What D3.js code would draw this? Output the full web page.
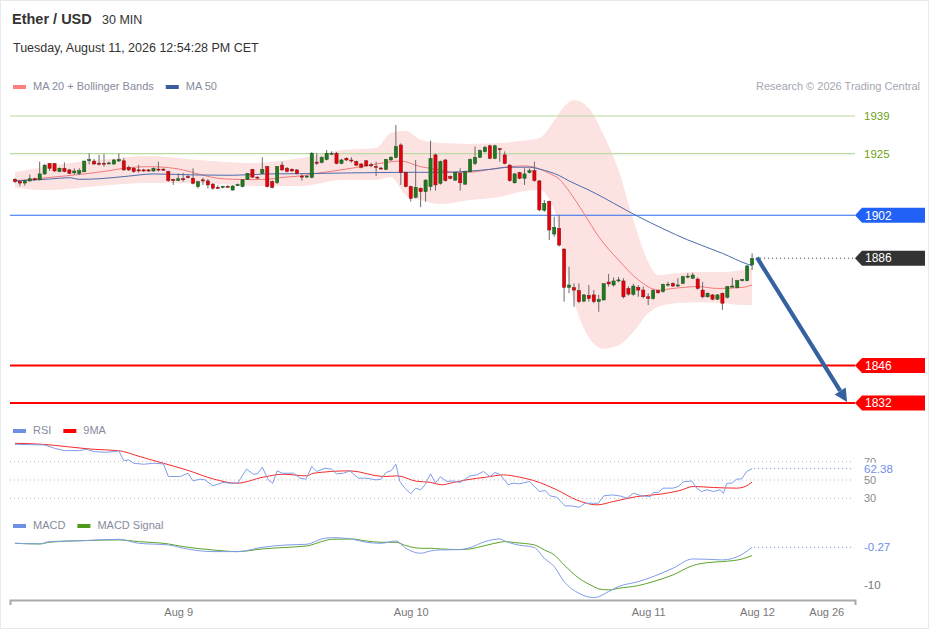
<!DOCTYPE html>
<html>
<head>
<meta charset="utf-8">
<script src="https://cdn.jsdelivr.net/npm/d3@7"></script>
<style>
  body { margin: 0; background: #fff; }
  text { font-family: "Liberation Sans", Arial, sans-serif; }
</style>
</head>
<body>
<div id="chart"></div>
<script>
// candles, 30 min, index 0 = first bar on screen
const opens = [
  1915.4,1914.6,1914.0,1914.8,1915.6,1915.2,1917.4,1921.3,1921.3,1918.3,
  1919.5,1918.9,1917.8,1917.6,1918.2,1922.4,1922.2,1921.4,1921.4,1921.4,
  1921.1,1922.2,1922.3,1919.8,1919.5,1918.9,1918.9,1918.9,1918.5,1919.2,
  1919.2,1918.3,1915.3,1915.0,1915.6,1916.4,1915.8,1912.7,1915.2,1914.8,
  1913.6,1912.4,1912.6,1912.8,1911.4,1913.2,1912.7,1915.4,1919.1,1916.2,
  1917.6,1920.1,1914.5,1914.2,1920.7,1919.5,1919.1,1918.9,1916.6,1916.4,
  1916.1,1921.8,1921.7,1922.8,1924.8,1925.1,1921.3,1923.2,1922.6,1922.0,
  1921.1,1922.3,1920.8,1920.2,1919.6,1919.1,1922.6,1923.6,1928.2,1917.9,
  1912.7,1908.7,1912.0,1910.8,1912.7,1924.5,1913.9,1922.6,1916.4,1915.1,
  1917.6,1913.6,1918.2,1921.3,1923.6,1925.7,1927.9,1923.2,1926.8,1924.5,
  1920.7,1914.1,1917.9,1915.8,1917.9,1918.6,1914.8,1903.9,1907.1,1895.0,
  1897.1,1889.4,1875.1,1875.0,1873.9,1870.0,1872.1,1872.3,1869.8,1870.4,
  1877.1,1876.0,1877.5,1877.5,1874.7,1872.5,1875.1,1874.1,1871.6,1871.0,
  1873.9,1873.5,1876.2,1876.6,1875.6,1876.6,1879.1,1878.5,1878.2,1874.1,
  1871.6,1872.3,1870.7,1872.9,1871.4,1875.4,1875.0,1877.6,1877.6,1883.5
];
const highs = [
  1915.8,1915.0,1915.3,1917.2,1916.0,1922.0,1921.0,1921.5,1921.4,1919.8,
  1921.7,1919.3,1919.5,1919.5,1922.3,1925.0,1923.0,1924.5,1924.8,1922.0,
  1923.0,1925.0,1923.3,1920.5,1920.0,1920.8,1919.3,1919.2,1919.8,1922.0,
  1919.5,1918.6,1915.6,1917.6,1917.8,1917.0,1919.5,1914.8,1916.0,1915.5,
  1914.0,1913.2,1913.0,1913.2,1913.2,1913.8,1915.4,1917.8,1919.3,1916.5,
  1923.6,1920.4,1915.0,1920.3,1922.0,1920.0,1919.5,1919.2,1917.6,1917.0,
  1925.6,1925.1,1924.0,1926.3,1925.8,1925.6,1923.0,1923.6,1923.6,1922.4,
  1921.5,1922.6,1921.6,1922.0,1920.0,1923.0,1924.0,1935.6,1928.8,1918.3,
  1913.0,1922.6,1912.4,1915.4,1929.8,1925.0,1922.4,1923.0,1916.8,1918.3,
  1919.5,1918.6,1923.2,1927.6,1926.5,1927.9,1928.3,1928.3,1927.1,1925.8,
  1921.0,1917.8,1918.2,1919.5,1919.5,1922.0,1915.1,1907.7,1907.5,1901.5,
  1902.1,1889.6,1882.8,1876.6,1876.6,1872.6,1876.0,1874.1,1872.3,1876.6,
  1880.1,1878.8,1879.0,1878.5,1875.5,1876.5,1876.0,1875.4,1872.9,1874.5,
  1874.3,1876.5,1877.2,1877.0,1878.5,1879.4,1880.4,1880.6,1878.8,1877.2,
  1873.2,1872.6,1872.6,1873.2,1875.6,1878.7,1877.9,1878.3,1883.4,1887.8
];
const lows = [
  1914.0,1912.8,1913.0,1914.5,1914.8,1915.0,1917.0,1918.5,1918.2,1918.0,
  1918.0,1917.3,1917.1,1917.0,1918.0,1921.0,1920.8,1920.5,1920.1,1921.0,
  1920.8,1922.0,1918.5,1918.5,1917.8,1917.9,1918.2,1918.2,1918.2,1918.3,
  1918.5,1914.5,1913.3,1914.8,1914.5,1915.8,1913.5,1912.0,1913.3,1912.0,
  1911.5,1911.8,1912.0,1912.2,1911.2,1912.8,1912.4,1915.2,1916.0,1915.8,
  1917.3,1912.3,1912.0,1913.6,1918.6,1918.0,1918.2,1917.2,1914.9,1916.0,
  1915.8,1920.7,1921.3,1922.5,1924.5,1921.0,1921.0,1922.2,1921.6,1920.3,
  1919.5,1920.0,1919.9,1916.6,1919.0,1918.8,1922.3,1923.2,1913.3,1912.4,
  1907.1,1908.3,1905.0,1907.1,1911.2,1911.2,1913.4,1914.5,1915.4,1914.8,
  1911.2,1913.3,1918.0,1920.7,1923.3,1925.4,1922.9,1922.9,1922.0,1921.0,
  1914.5,1913.8,1915.4,1913.3,1917.6,1914.5,1903.5,1903.3,1892.8,1894.0,
  1890.3,1869.8,1872.9,1867.9,1869.2,1869.6,1869.8,1869.2,1866.0,1870.3,
  1875.4,1875.4,1877.0,1871.0,1872.0,1872.0,1871.6,1871.0,1868.5,1870.5,
  1872.8,1873.2,1875.4,1875.3,1875.3,1876.3,1878.5,1878.3,1874.3,1871.0,
  1871.3,1870.3,1870.4,1866.7,1871.0,1875.0,1874.7,1877.3,1877.3,1881.6
];
const closes = [
  1914.6,1914.0,1914.8,1915.6,1915.2,1917.4,1920.7,1919.5,1918.5,1919.5,
  1918.3,1917.6,1918.5,1918.6,1922.2,1922.7,1921.1,1921.3,1921.3,1921.5,
  1922.6,1922.8,1918.9,1918.9,1918.3,1918.6,1918.5,1918.5,1919.5,1919.0,
  1918.8,1914.9,1915.0,1915.6,1915.4,1916.0,1913.9,1914.5,1914.8,1913.3,
  1912.1,1912.3,1912.8,1912.7,1912.9,1913.4,1915.2,1917.6,1916.2,1916.1,
  1919.1,1912.7,1912.4,1920.1,1918.9,1918.3,1918.5,1917.6,1916.2,1916.6,
  1925.1,1921.4,1923.5,1925.1,1925.1,1921.3,1922.6,1922.6,1922.5,1920.7,
  1919.9,1920.4,1920.6,1920.0,1919.4,1922.8,1923.6,1927.6,1917.9,1912.7,
  1908.3,1912.4,1910.8,1915.1,1923.2,1913.3,1922.0,1914.9,1915.8,1917.9,
  1914.1,1918.2,1922.8,1923.6,1926.1,1927.3,1923.2,1927.9,1926.6,1921.3,
  1914.9,1917.4,1915.8,1917.4,1918.6,1914.9,1904.0,1906.4,1896.5,1897.5,
  1890.9,1875.1,1876.0,1874.1,1869.8,1872.3,1871.0,1869.8,1870.6,1876.5,
  1876.4,1877.5,1877.9,1871.6,1872.6,1875.6,1874.1,1871.6,1871.0,1873.9,
  1873.1,1876.2,1876.3,1875.6,1876.0,1879.1,1879.3,1879.7,1874.7,1871.6,
  1872.9,1870.7,1872.3,1869.2,1875.4,1875.6,1877.6,1878.0,1883.1,1885.9
];

// moving averages / bollinger at these bar indexes
const ma50Idx = [0,7,11,13,17,23,28,37,44,51,58,78,86,96,100,104,106,110,112,116,126,136,143,148,149];
const ma50Val = [1914.8,1915.5,1916.0,1915.4,1915.6,1916.6,1917.4,1917.0,1916.9,1917.4,1917.5,1918.0,1918.0,1919.1,1919.9,1919.9,1919.2,1916.8,1914.8,1911.4,1901.5,1892.8,1887.8,1883.8,1883.2];

const ma20Idx = [0,7,14,19,22,27,30,34,37,41,44,48,51,54,58,61,68,74,78,82,86,89,93,96,100,103,105,108,110,112,115,118,122,126,130,133,138,142,147,149];
const ma20Val = [1914.8,1916.1,1917.4,1918.6,1919.5,1920.1,1919.9,1918.9,1917.4,1915.8,1915.4,1915.3,1915.4,1916.1,1916.7,1917.6,1919.5,1921.4,1922.2,1920.1,1918.9,1917.9,1918.2,1919.1,1920.1,1920.4,1919.9,1917.6,1915.5,1911.0,1902.7,1894.0,1885.3,1877.9,1874.1,1874.7,1875.4,1874.7,1875.1,1876.0];

const bandIdx = [0,7,17,27,37,48,58,66,73,76,79,82,86,92,98,102,106,109,111,113,116,119,122,125,128,130,134,138,143,147,149];
const bandUpper = [1918.1,1920.4,1922.6,1924.1,1922.6,1921.5,1923.3,1926.3,1927.1,1932.7,1933.5,1930.1,1928.9,1928.6,1928.9,1929.7,1930.8,1937.2,1942.5,1945,1942,1931.9,1918.9,1900.2,1884.6,1879.7,1880.5,1880.8,1880.8,1881.6,1882.3];
const bandLower = [1912.2,1911.4,1912.9,1914.0,1914.0,1912.9,1912.9,1915.1,1915.1,1916.3,1909.5,1907.7,1906.2,1907.7,1908.8,1910.7,1911.4,1904,1885.3,1870,1856.5,1852.2,1853.5,1858.5,1865.5,1867.8,1869.3,1869.6,1869.3,1868.5,1868.5];

// RSI + its 9 period MA
const rsiIdx = [0,6,8,10,13,14.5,16,18.5,21,22,23,24,26,28,30,31,33.4,35,36,37.4,38.4,40,42,43.5,45,46.8,48.2,49,50,51.2,52.1,53,54.1,55,56.3,57.6,58.8,60,61,62.7,64,65,66.4,67.7,69.4,71,73,74,75,76,77,77.8,78.8,80,81,82,82.9,84,85,86,87.3,88.6,90,92,93.3,94.7,96,97,98,99.7,100.7,102,104,106,107.2,108.2,109.5,111.2,112.5,114.1,115.2,116.9,117.9,119,120.6,122.3,123.7,125,126.7,128.4,129,130,131,133,134.1,135.1,136.8,137.8,138.8,139.9,141.2,142.5,143.2,143.9,144.9,145.9,146.9,147.9,149];
const rsiVal = [89.0,88.3,84.7,82.1,82.1,83.6,81.0,80.3,81.8,71.2,71.9,68.3,67.2,68.3,67.6,53.8,53.8,57.4,49.0,50.9,50.2,43.6,47.3,46.5,46.5,61.8,56.3,56.7,64.0,50.2,46.5,60.0,57.4,57.4,57.4,52.0,50.9,64.7,59.3,62.9,61.8,56.7,57.4,60.0,52.0,52.0,50.2,50.9,58.2,60.0,67.2,48.4,41.1,34.9,41.1,39.3,44.8,56.7,47.0,53.5,48.4,49.0,47.3,54.5,55.6,59.3,53.8,58.2,56.3,44.8,46.5,45.8,48.4,37.4,38.5,32.6,31.2,21.7,21.7,20.2,24.6,24.6,24.6,32.6,33.7,32.6,30.1,35.6,32.6,31.9,36.3,36.3,41.1,41.1,42.9,48.0,49.0,41.1,37.4,39.3,37.4,39.3,35.6,46.5,46.5,50.9,51.3,59.3,62.38];
const rsiMaIdx = [0,5.7,10.4,15.8,20.9,25.3,30,34.7,40.1,44.8,50.2,54.2,59,60.3,67.7,74.5,77.2,81.2,83.9,86.3,88.6,91.3,95.3,98.7,102,104.8,109.5,113.5,117.6,121,125.7,130.4,134.4,137.1,141.2,145.9,147.6,149];
const rsiMaVal = [90.1,89.0,86.5,83.6,82.1,75.5,68.3,61.0,51.1,46.5,53.1,56.3,54.5,57.4,60.0,53.8,54.5,48.6,47.5,44.8,47.3,50.2,53.1,55.6,53.1,49.5,39.3,28.3,22.8,26.5,31.9,34.5,38.5,42.9,41.8,41.1,42.9,47.7];
const rsiLevels = [70, 50, 30];

// MACD + signal
const macdIdx = [0,5,7,14,21,25,31,34,40,45,50,55,59,62,64,68,71,74,77,79,82,84,86,90,92,95,98,99,101,105,107,109,111,114,117,118,120,122,126,129,133,137,140,143,147,149];
const macdVal = [0.77,0.60,1.20,1.46,1.80,0.77,0.34,-0.52,-1.38,-1.38,-0.27,0.34,0.51,1.88,2.23,1.88,1.03,0.77,1.37,-0.52,-1.81,-1.21,-0.95,-0.86,-0.35,1.20,1.88,1.37,0.51,-0.35,-3.10,-5.25,-9.12,-12.13,-13.25,-12.99,-11.70,-10.41,-9.12,-7.83,-5.68,-3.28,-3.36,-3.53,-2.07,-0.27];
const signalVal = [0.77,0.60,1.03,1.46,1.63,1.20,0.60,-0.09,-0.95,-1.38,-0.69,-0.27,0.08,1.20,1.80,1.88,1.37,1.03,1.03,0.17,-0.52,-0.52,-0.69,-0.86,-0.69,0.17,1.03,1.20,0.94,0.34,-0.95,-2.24,-4.82,-8.26,-10.41,-11.01,-11.27,-10.84,-10.15,-9.12,-7.40,-4.99,-4.22,-3.96,-3.28,-2.41];
const macdTicks = [-0.27, -10];

// key levels
const resistLevels = [1939, 1925];
const pivotLevel = 1902;
const supportLevels = [1846, 1832];
const lastPrice = 1886;
const targetPrice = 1832;

// time axis
const tickIdx = [33, 80, 128, 150, 164];
const tickLabels = ["Aug 9", "Aug 10", "Aug 11", "Aug 12", "Aug 26"];

const W = 929, H = 629;
const svg = d3.select("#chart").append("svg")
    .attr("width", W).attr("height", H);

svg.append("rect").attr("x", 0.5).attr("y", 0.5)
    .attr("width", W - 1).attr("height", H - 1)
    .attr("fill", "#fff").attr("stroke", "#e6eaef");

const x = d3.scaleLinear().domain([-1, 169.8]).range([10, 855]);
const y = d3.scaleLinear().domain([1939, 1832]).range([116, 403]);
const yR = d3.scaleLinear().domain([70, 30]).range([461.7, 498.3]);
const yM = d3.scaleLinear().domain([-0.27, -10]).range([547.3, 585]);

const zip = (a, b) => a.map((d, i) => [d, b[i]]);

// header
svg.append("text").attr("x", 12).attr("y", 24).text("Ether / USD")
    .attr("style", "font-size: 14.5px; font-weight: bold; fill: #333");
svg.append("text").attr("x", 102).attr("y", 24).text("30 MIN")
    .attr("style", "font-size: 12.5px; fill: #333");
svg.append("text").attr("x", 13).attr("y", 52).text("Tuesday, August 11, 2026 12:54:28 PM CET")
    .attr("style", "font-size: 12.5px; fill: #333");
svg.append("text").attr("x", 920).attr("y", 90).attr("text-anchor", "end")
    .text("Research \u00a9 2026 Trading Central")
    .attr("style", "font-size: 11px; fill: #a3a7b2");

function legend(items, ly) {
    let lx = 13;
    items.forEach(it => {
        svg.append("rect").attr("x", lx).attr("y", ly - 5).attr("width", 13).attr("height", 4)
            .attr("fill", it.color);
        const t = svg.append("text").attr("x", lx + 20).attr("y", ly).text(it.label)
            .attr("style", "font-size: 11px; fill: #858b9c");
        lx += 20 + t.node().getComputedTextLength() + 12;
    });
}
legend([{ label: "MA 20 + Bollinger Bands", color: "#ff7f7f" }, { label: "MA 50", color: "#3a5b9c" }], 90);
legend([{ label: "RSI", color: "#6d8fe4" }, { label: "9MA", color: "#f00" }], 434);
legend([{ label: "MACD", color: "#6d8fe4" }, { label: "MACD Signal", color: "#4d9a1c" }], 529);

// bollinger band
const band = d3.area()
    .x(d => x(d[0])).y0(d => y(d[2])).y1(d => y(d[1]))
    .curve(d3.curveMonotoneX);
svg.append("path")
    .datum(bandIdx.map((d, i) => [d, bandUpper[i], bandLower[i]]))
    .attr("d", band).attr("fill", "#fde2e2");

// horizontal levels
svg.selectAll(".res").data(resistLevels).join("line")
    .attr("x1", 10).attr("x2", 855).attr("y1", d => y(d)).attr("y2", d => y(d))
    .attr("stroke", "#b9dc9f").attr("stroke-width", 1.2);
svg.selectAll(".resT").data(resistLevels).join("text")
    .attr("x", 864).attr("y", d => y(d) + 4).text(d => d)
    .attr("style", "font-size: 11.5px; fill: #6f9f16");

svg.append("line").attr("x1", 10).attr("x2", 855)
    .attr("y1", y(pivotLevel)).attr("y2", y(pivotLevel))
    .attr("stroke", "#2c6bf0").attr("stroke-width", 1.2);

svg.selectAll(".sup").data(supportLevels).join("line")
    .attr("x1", 10).attr("x2", 855).attr("y1", d => y(d)).attr("y2", d => y(d))
    .attr("stroke", "#f00").attr("stroke-width", 2);

// moving averages
const line = d3.line().x(d => x(d[0])).y(d => y(d[1])).curve(d3.curveMonotoneX);
svg.append("path").datum(zip(ma20Idx, ma20Val)).attr("d", line)
    .attr("fill", "none").attr("stroke", "#f27a7a").attr("stroke-width", 1);
svg.append("path").datum(zip(ma50Idx, ma50Val)).attr("d", line)
    .attr("fill", "none").attr("stroke", "#4d6cae").attr("stroke-width", 1);

// candles
const candles = closes.map((c, i) => ({ i: i, o: opens[i], h: highs[i], l: lows[i], c: c }));
const cg = svg.append("g");
cg.selectAll("line").data(candles).join("line")
    .attr("x1", d => x(d.i)).attr("x2", d => x(d.i))
    .attr("y1", d => y(d.h)).attr("y2", d => y(d.l))
    .attr("stroke", "#6b6b6b").attr("stroke-width", 1);
cg.selectAll("rect").data(candles).join("rect")
    .attr("x", d => x(d.i) - 1.6).attr("width", 3.2)
    .attr("y", d => y(Math.max(d.o, d.c)))
    .attr("height", d => Math.max(1, Math.abs(y(d.o) - y(d.c))))
    .attr("fill", d => d.c >= d.o ? "#1f7a1f" : "#e8000b")
    .attr("stroke", d => d.c >= d.o ? "#1a4d1a" : "#7a1010")
    .attr("stroke-width", 0.5);

// last price dotted guide
const lastI = closes.length - 1;
svg.append("line").attr("x1", x(lastI) + 4).attr("x2", 855)
    .attr("y1", y(lastPrice)).attr("y2", y(lastPrice))
    .attr("stroke", "#333").attr("stroke-dasharray", "1,3");

// forecast arrow
const ax1 = x(lastI + 1), ay1 = y(lastPrice) - 0.5;
const ax2 = x(168.2), ay2 = y(targetPrice) - 1;
const ang = Math.atan2(ay2 - ay1, ax2 - ax1);
const headL = 13, headW = 6.5;
const bx = ax2 - headL * Math.cos(ang), by = ay2 - headL * Math.sin(ang);
svg.append("line").attr("x1", ax1).attr("y1", ay1).attr("x2", bx).attr("y2", by)
    .attr("stroke", "#34619f").attr("stroke-width", 4.2);
svg.append("path")
    .attr("d", `M${ax2},${ay2}L${bx + headW * Math.sin(ang)},${by - headW * Math.cos(ang)}L${bx - headW * Math.sin(ang)},${by + headW * Math.cos(ang)}Z`)
    .attr("fill", "#34619f");

// right side price tags
function tag(v, color, yy) {
    const yc = yy === undefined ? y(v) : yy;
    svg.append("path")
        .attr("d", `M855,${yc}L862,${yc - 7.5}H925V${yc + 7.5}H862Z`)
        .attr("fill", color);
    svg.append("text").attr("x", 865).attr("y", yc + 4.3).text(v)
        .attr("style", "font-size: 12px; fill: #fff");
}
tag(pivotLevel, "#2261f5");
tag(lastPrice, "#333");
supportLevels.forEach(v => tag(v, "#f00"));

// RSI panel
svg.selectAll(".rl").data(rsiLevels).join("line")
    .attr("x1", 10).attr("x2", 853).attr("y1", d => yR(d)).attr("y2", d => yR(d))
    .attr("stroke", "#b5b5b5").attr("stroke-dasharray", "1,3");
svg.selectAll(".rlt").data(rsiLevels).join("text")
    .attr("x", 864).attr("y", d => yR(d) + 4).text(d => d)
    .attr("style", "font-size: 11px; fill: #8a8a8a");
const lineR = d3.line().x(d => x(d[0])).y(d => yR(d[1]));
svg.append("path").datum(zip(rsiMaIdx, rsiMaVal))
    .attr("d", lineR.curve(d3.curveMonotoneX))
    .attr("fill", "none").attr("stroke", "#f52b2b").attr("stroke-width", 1);
svg.append("path").datum(zip(rsiIdx, rsiVal))
    .attr("d", lineR.curve(d3.curveLinear))
    .attr("fill", "none").attr("stroke", "#7f9de8").attr("stroke-width", 1);
const rsiLast = rsiVal[rsiVal.length - 1];
svg.append("line").attr("x1", x(lastI) + 2).attr("x2", 853)
    .attr("y1", yR(rsiLast)).attr("y2", yR(rsiLast))
    .attr("stroke", "#6d8fe4").attr("stroke-dasharray", "1,3");
svg.append("rect").attr("x", 862).attr("y", yR(rsiLast) - 6).attr("width", 34).attr("height", 11)
    .attr("fill", "#fff");
svg.append("text").attr("x", 864).attr("y", yR(rsiLast) + 4).text(rsiLast.toFixed(2))
    .attr("style", "font-size: 11.5px; fill: #6d8fe4");

// MACD panel
const lineM = d3.line().x(d => x(d[0])).y(d => yM(d[1])).curve(d3.curveMonotoneX);
svg.append("path").datum(zip(macdIdx, signalVal)).attr("d", lineM)
    .attr("fill", "none").attr("stroke", "#5aa32a").attr("stroke-width", 1);
svg.append("path").datum(zip(macdIdx, macdVal)).attr("d", lineM)
    .attr("fill", "none").attr("stroke", "#7f9de8").attr("stroke-width", 1);
const macdLast = macdVal[macdVal.length - 1];
svg.append("line").attr("x1", x(lastI) + 2).attr("x2", 853)
    .attr("y1", yM(macdLast)).attr("y2", yM(macdLast))
    .attr("stroke", "#6d8fe4").attr("stroke-dasharray", "1,3");
svg.selectAll(".mt").data(macdTicks).join("text")
    .attr("x", 864).attr("y", d => yM(d) + 4).text(d => d)
    .attr("style", d => "font-size: 11.5px; fill: " + (d === macdLast ? "#6d8fe4" : "#777"));

// time axis
const axis = svg.append("g").attr("transform", "translate(0,600)")
    .call(d3.axisBottom(x)
        .tickValues(tickIdx)
        .tickFormat((d, i) => tickLabels[i])
        .tickSizeInner(0).tickSizeOuter(5).tickPadding(8));
axis.select(".domain").attr("stroke", "#aaa").attr("stroke-width", 2);
axis.selectAll("text").attr("style", "font-size: 11px; fill: #777; font-family: 'Liberation Sans', Arial, sans-serif");
</script>
</body>
</html>
